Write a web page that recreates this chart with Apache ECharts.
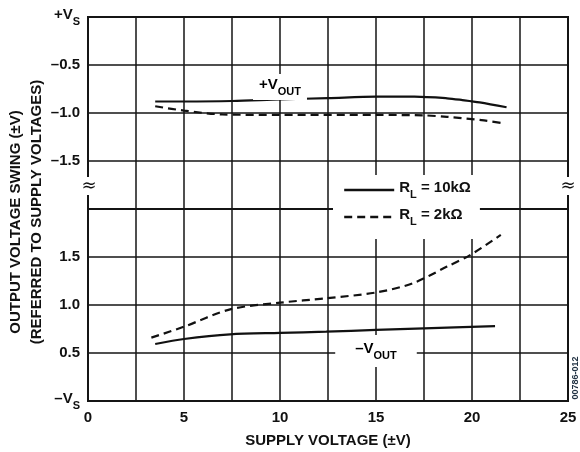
<!DOCTYPE html>
<html>
<head>
<meta charset="utf-8">
<script src="https://cdn.jsdelivr.net/npm/echarts@6/dist/echarts.min.js"></script>
<style>html,body{margin:0;padding:0;background:#fff}#c{width:580px;height:452px}</style>
</head>
<body>
<div id="c"></div>
<script>
// Supply voltage (±V) sample points
var posX10k = [3.5, 5, 7.5, 10, 12.5, 15, 17, 18.7, 19.5, 20.4, 21.8];
var posY10k = [-0.88, -0.88, -0.875, -0.858, -0.845, -0.83, -0.83, -0.847, -0.865, -0.889, -0.94];
var posX2k = [3.5, 5, 7, 10, 15, 17.5, 18.7, 20.5, 21.7];
var posY2k = [-0.93, -0.975, -1.015, -1.02, -1.02, -1.025, -1.04, -1.075, -1.11];
var negX10k = [3.5, 5, 7.4, 10, 12.4, 15, 17.5, 21.2];
var negY10k = [0.594, 0.646, 0.695, 0.71, 0.722, 0.74, 0.757, 0.78];
var negX2k = [3.3, 5, 7.4, 10, 12.4, 15, 16.9, 18.7, 19.9, 21.5];
var negY2k = [0.66, 0.774, 0.955, 1.024, 1.07, 1.13, 1.225, 1.40, 1.52, 1.73];
var xTicks = [0, 5, 10, 15, 20, 25];
var topTickLabels = {'0': '{v|+V}{s|S}', '-0.5': '–0.5', '-1': '–1.0', '-1.5': '–1.5'};
var botTickLabels = {'0': '{v|–V}{s|S}', '0.5': '0.5', '1': '1.0', '1.5': '1.5'};
var name10k = 'RL = 10kΩ';
var name2k = 'RL = 2kΩ';

function zip(a, b) { return a.map(function (x, i) { return [x, b[i]]; }); }

var FONT = 'Liberation Sans';
var TXT = '#111';
var GRID = '#151515';

var labelRich = {
  v: {fontFamily: FONT, fontWeight: 'bold', fontSize: 15, color: TXT, padding: [0, 0, 5, 0], verticalAlign: 'bottom'},
  s: {fontFamily: FONT, fontWeight: 'bold', fontSize: 11, color: TXT, verticalAlign: 'bottom'}
};

function xAxisCfg(idx, showLabels) {
  return {
    type: 'value', gridIndex: idx, min: 0, max: 25, interval: 2.5,
    axisLine: {show: true, lineStyle: {color: GRID, width: 2}},
    axisTick: {show: false},
    splitLine: {show: true, lineStyle: {color: GRID, width: 1.5}},
    axisLabel: {
      show: showLabels, margin: 9, fontFamily: FONT, fontWeight: 'bold', fontSize: 15, color: TXT,
      formatter: function (v) { return xTicks.indexOf(v) >= 0 ? String(v) : ''; }
    }
  };
}
function yAxisCfg(idx, min, max, map) {
  return {
    type: 'value', gridIndex: idx, min: min, max: max, interval: 0.5,
    axisLine: {show: true, lineStyle: {color: GRID, width: 2}},
    axisTick: {show: false},
    splitLine: {show: true, lineStyle: {color: GRID, width: 1.5}},
    axisLabel: {
      margin: 8, fontFamily: FONT, fontWeight: 'bold', fontSize: 15, color: TXT, rich: labelRich,
      formatter: function (v) { var k = String(Math.round(v * 10) / 10); return map[k] || ''; }
    }
  };
}

var lineBase = {type: 'line', symbol: 'none', showSymbol: false, smooth: 0.3, z: 5};

var chart = echarts.init(document.getElementById('c'), null, {renderer: 'canvas'});
chart.setOption({
  animation: false,
  backgroundColor: '#fff',
  grid: [
    {left: 88, width: 480, top: 17, height: 192, show: true, borderColor: GRID, borderWidth: 2},
    {left: 88, width: 480, top: 209, height: 192, show: true, borderColor: GRID, borderWidth: 2}
  ],
  xAxis: [
    xAxisCfg(0, false),
    Object.assign(xAxisCfg(1, true), {
      name: 'SUPPLY VOLTAGE (±V)', nameLocation: 'middle', nameGap: 32,
      nameTextStyle: {fontFamily: FONT, fontWeight: 'bold', fontSize: 15, color: TXT}
    })
  ],
  yAxis: [yAxisCfg(0, -2, 0, topTickLabels), yAxisCfg(1, 0, 2, botTickLabels)],
  legend: {
    orient: 'vertical', left: 333, top: 175,
    padding: [5, 9, 12, 10], itemGap: 7, itemWidth: 50, itemHeight: 14,
    backgroundColor: '#fff', z: 20,
    itemStyle: {opacity: 0},
    lineStyle: {width: 2.4},
    data: [name10k, name2k],
    formatter: function (n) { return '{v|R}{s|L}{v|' + n.slice(2) + '}'; },
    textStyle: {rich: labelRich, fontFamily: FONT, fontWeight: 'bold', fontSize: 15, color: TXT}
  },
  series: [
    Object.assign({}, lineBase, {name: name10k, xAxisIndex: 0, yAxisIndex: 0, data: zip(posX10k, posY10k),
      lineStyle: {color: '#111', width: 2.2, type: 'solid'}, itemStyle: {color: '#111'}}),
    Object.assign({}, lineBase, {name: name2k, xAxisIndex: 0, yAxisIndex: 0, data: zip(posX2k, posY2k),
      lineStyle: {color: '#111', width: 2.2, type: [8, 5]}, itemStyle: {color: '#111'}}),
    Object.assign({}, lineBase, {name: name10k, xAxisIndex: 1, yAxisIndex: 1, data: zip(negX10k, negY10k),
      lineStyle: {color: '#111', width: 2.2, type: 'solid'}, itemStyle: {color: '#111'}}),
    Object.assign({}, lineBase, {name: name2k, xAxisIndex: 1, yAxisIndex: 1, data: zip(negX2k, negY2k),
      lineStyle: {color: '#111', width: 2.2, type: [8, 5]}, itemStyle: {color: '#111'}})
  ],
  graphic: [
    {type: 'text', z: 100, x: 16, y: 222, rotation: Math.PI / 2,
      style: {text: 'OUTPUT VOLTAGE SWING (±V)', fontFamily: FONT, fontWeight: 'bold', fontSize: 15, fill: TXT, align: 'center', verticalAlign: 'middle'}},
    {type: 'text', z: 100, x: 37, y: 212, rotation: Math.PI / 2,
      style: {text: '(REFERRED TO SUPPLY VOLTAGES)', fontFamily: FONT, fontWeight: 'bold', fontSize: 15, fill: TXT, align: 'center', verticalAlign: 'middle'}},
    {type: 'text', z: 100, x: 280, y: 87,
      style: {rich: labelRich, text: '{v|+V}{s|OUT}', align: 'center', verticalAlign: 'middle', backgroundColor: '#fff', padding: [3, 6, 3, 6]}},
    {type: 'text', z: 100, x: 376, y: 351,
      style: {rich: labelRich, text: '{v|–V}{s|OUT}', align: 'center', verticalAlign: 'middle', backgroundColor: '#fff', padding: [6, 20, 6, 20]}},
    {type: 'text', z: 100, x: 89, y: 186,
      style: {text: '≈', fontFamily: 'DejaVu Sans', fontSize: 18, fill: TXT, align: 'center', verticalAlign: 'middle', backgroundColor: '#fff'}},
    {type: 'text', z: 100, x: 568, y: 186,
      style: {text: '≈', fontFamily: 'DejaVu Sans', fontSize: 18, fill: TXT, align: 'center', verticalAlign: 'middle', backgroundColor: '#fff'}},
    {type: 'text', z: 100, x: 576, y: 378, rotation: Math.PI / 2,
      style: {text: '00786-012', fontFamily: FONT, fontWeight: 'bold', fontSize: 9, fill: '#234', align: 'center', verticalAlign: 'middle'}}
  ]
});
</script>
</body>
</html>
